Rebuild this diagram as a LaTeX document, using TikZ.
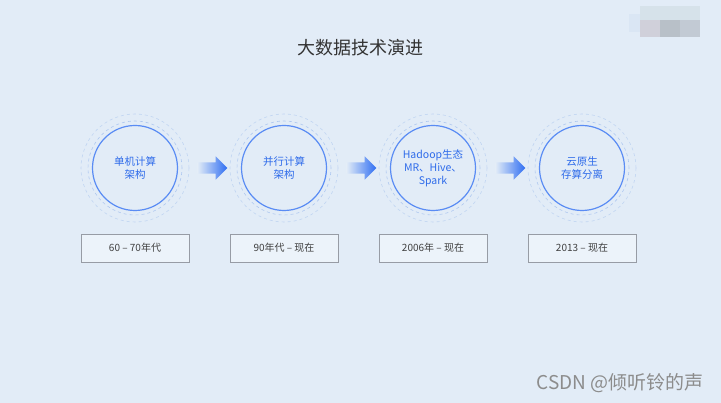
\documentclass[tikz,border=0pt]{standalone}
\usepackage{fontspec}
\setmainfont{Noto Sans CJK SC}
\usepackage{tikz}
\usetikzlibrary{shapes.geometric, shapes.arrows, arrows, positioning, calc}
\definecolor{bg}{HTML}{E2ECF7}
\definecolor{ringblue}{HTML}{5A8CF4}
\definecolor{textblue}{HTML}{2E6BEA}
\definecolor{dashblue}{HTML}{AFC8F0}
\definecolor{arrowblue}{HTML}{2F6EF2}
\definecolor{boxgray}{HTML}{979CA5}
\definecolor{blur1}{HTML}{DAE6F4}
\definecolor{blur2}{HTML}{D6E2EA}
\definecolor{blur3}{HTML}{D0D0DA}
\definecolor{blur4}{HTML}{B8C0C8}
\definecolor{blur5}{HTML}{C2CAD4}
\tikzstyle{stage} = [circle, minimum size=85pt, inner sep=0pt, draw=ringblue, line width=1.2pt, text=textblue, align=center, font=\fontsize{10.5}{13}\selectfont]
\tikzstyle{era} = [rectangle, minimum width=108pt, minimum height=28pt, draw=boxgray, line width=0.8pt, fill=white!35!bg, text=black!75, font=\fontsize{10}{12}\selectfont]
\tikzstyle{flow} = [single arrow, minimum height=30pt, inner xsep=0pt, inner ysep=5.5pt, single arrow head extend=6pt, single arrow head indent=0pt, draw=none, left color=bg, right color=arrowblue]
\tikzstyle{halo} = [draw=dashblue, dashed, line width=0.6pt]

\begin{document}
\begin{tikzpicture}[x=1pt, y=-1pt, node distance=149pt]
\fill[bg] (0,0) rectangle (721,403);
\useasboundingbox (0,0) rectangle (721,403);
% blurred logo
\fill[blur1] (629,14) rectangle (641,32);
\fill[blur2] (640,6) rectangle (700,20);
\fill[blur3] (640,20) rectangle (660,37);
\fill[blur4] (660,20) rectangle (680,37);
\fill[blur5] (680,20) rectangle (700,37);

\node(title)[text=black!80, font=\fontsize{18}{20}\selectfont] at (360,48) {大数据技术演进};

\node(c1)[stage] at (135,168) {单机计算\\架构};
\node(c2)[stage, right of=c1] {并行计算\\架构};
\node(c3)[stage, right of=c2] {Hadoop生态\\MR、Hive、\\Spark};
\node(c4)[stage, right of=c3] {云原生\\存算分离};

\foreach \c in {c1,c2,c3,c4}{
  \draw[halo] (\c) circle (47pt);
  \draw[halo, draw=dashblue!65!bg] (\c) circle (54pt);
}

\node(t1)[era, below of=c1, node distance=80pt] {60 – 70年代};
\node(t2)[era, below of=c2, node distance=80pt] {90年代 – 现在};
\node(t3)[era, below of=c3, node distance=80pt] {2006年 – 现在};
\node(t4)[era, below of=c4, node distance=80pt] {2013 – 现在};

\node(a1)[flow] at ($(c1)!0.5!(c2)$) {};
\node(a2)[flow] at ($(c2)!0.5!(c3)$) {};
\node(a3)[flow] at ($(c3)!0.5!(c4)$) {};

\node(mark)[anchor=east, text=black!45, font=\fontsize{19}{21}\selectfont] at (707,383) {CSDN @倾听铃的声};
\end{tikzpicture}
\end{document}
